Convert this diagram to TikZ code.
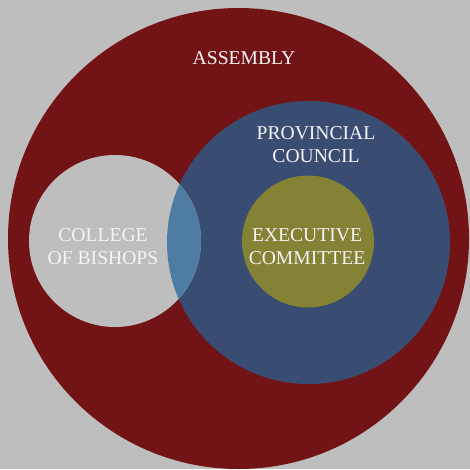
\documentclass[tikz,border=0pt]{standalone}
\usepackage{fontspec}
\setmainfont{Liberation Serif}
\usetikzlibrary{calc}
\definecolor{bggray}{HTML}{BEBEBE}
\definecolor{assemblyred}{HTML}{721315}
\definecolor{councilblue}{HTML}{394C72}
\definecolor{overlapblue}{HTML}{4E7CA3}
\definecolor{execolive}{HTML}{848235}
\definecolor{labelwhite}{HTML}{F4F4F4}
\newcommand*{\asmr}{230.5pt}
\newcommand*{\pcr }{141.5pt}
\newcommand*{\cobr}{86pt}
\newcommand*{\exr }{66pt}

\begin{document}
\begin{tikzpicture}[x=1pt, y=-1pt, font=\fontsize{19.6}{22.5}\selectfont,
    label/.style={text=labelwhite, align=center, inner sep=0pt}]
    \fill [bggray] (0,0) rectangle (470,469);
    \useasboundingbox (0,0) rectangle (470,469);
        \fill [assemblyred] (238.5,238.5) circle (\asmr);
        \fill [councilblue] (308.5,242.5) circle (\pcr);
        \fill [bggray] (115,241) circle (\cobr);
        \begin{scope}
            \clip (308.5,242.5) circle (\pcr);
            \fill [overlapblue] (115,241) circle (\cobr);
        \end{scope}
        \fill [execolive] (308,241.5) circle (\exr);
        \node [label, anchor=base] (assembly) at (244,64) {ASSEMBLY};
        \node [label] (council) at (316,144.5) {PROVINCIAL\\COUNCIL};
        \node [label] (bishops) at (103,246.5) {COLLEGE\\OF BISHOPS};
        \node [label] (executive) at (307,246.5) {EXECUTIVE\\COMMITTEE};
    \end{tikzpicture}
\end{document}
